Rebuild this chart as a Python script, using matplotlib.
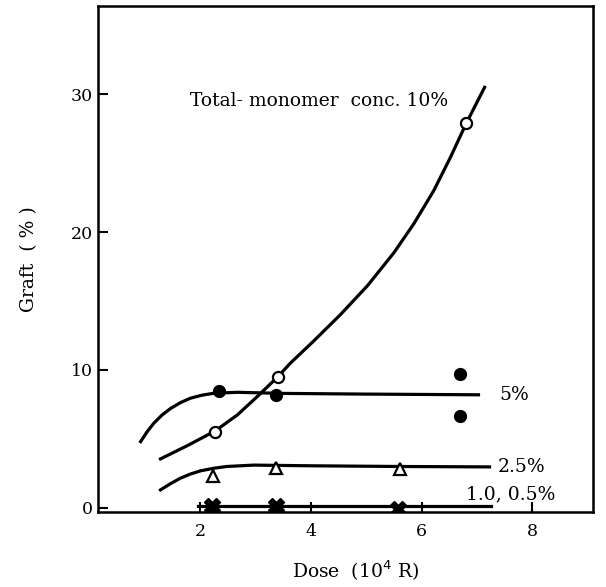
import matplotlib
matplotlib.use("Agg")
import matplotlib.pyplot as plt

# measured points (10% total monomer), open circles
dose_10 = [2.27, 3.40, 6.81]
graft_10 = [5.5, 9.5, 27.9]
# hand drawn curve through them
curve_10_x = [1.28, 1.76, 2.27, 2.67, 3.03, 3.40, 3.63, 4.05, 4.53, 5.02, 5.50, 5.86, 6.22, 6.52, 6.81, 7.14]
curve_10_y = [3.55, 4.5, 5.58, 6.74, 8.07, 9.5, 10.5, 12.1, 14.0, 16.1, 18.5, 20.6, 23.0, 25.4, 27.9, 30.5]

# 5%, filled circles
dose_5 = [2.33, 3.36, 6.69, 6.70]
graft_5 = [8.5, 8.2, 9.7, 6.65]
curve_5_x = [0.92, 1.04, 1.16, 1.31, 1.46, 1.64, 1.82, 2.03, 2.24, 2.67, 3.5, 5.0, 7.03]
curve_5_y = [4.8, 5.53, 6.14, 6.74, 7.2, 7.63, 7.95, 8.17, 8.31, 8.38, 8.3, 8.25, 8.2]

# 2.5%, open triangles
dose_25 = [2.23, 3.36, 5.61]
graft_25 = [2.3, 2.9, 2.85]
curve_25_x = [1.28, 1.46, 1.64, 1.82, 2.0, 2.24, 2.48, 2.97, 4.0, 5.6, 7.23]
curve_25_y = [1.3, 1.75, 2.15, 2.45, 2.68, 2.87, 3.0, 3.1, 3.05, 3.0, 2.97]

# 1.0 and 0.5%, crosses
dose_1 = [2.22, 3.36, 5.57]
graft_1 = [0.1, 0.1, -0.05]
curve_1_x = [1.95, 7.25]
curve_1_y = [0.1, 0.1]

labels = ["Total- monomer  conc. 10%", "5%", "2.5%", "1.0, 0.5%"]
label_x = [1.82, 7.4, 7.37, 6.81]
label_y = [29.5, 8.2, 2.97, 1.0]

xticks = [2, 4, 6, 8]
yticks = [0, 10, 20, 30]

plt.rcParams["font.family"] = ["DejaVu Serif"]

fig = plt.figure(figsize=(6.06, 5.87), dpi=100)
ax = fig.add_axes([0.1617, 0.1278, 0.8168, 0.862])

lw = 2.3
ax.plot(curve_10_x, curve_10_y, color="black", lw=lw)
ax.plot(curve_5_x, curve_5_y, color="black", lw=lw)
ax.plot(curve_25_x, curve_25_y, color="black", lw=lw)
ax.plot(curve_1_x, curve_1_y, color="black", lw=lw)

ax.plot(dose_10, graft_10, "o", ms=8, mfc="white", mec="black", mew=1.6)
ax.plot(dose_5, graft_5, "o", ms=8.5, color="black")
ax.plot(dose_25, graft_25, "^", ms=8.5, mfc="white", mec="black", mew=1.6)
ax.plot(dose_1, graft_1, "X", ms=11, color="black")

for t, x, y in zip(labels, label_x, label_y):
    ax.text(x, y, t, fontsize=13.5, va="center", ha="left")

ax.set_xlim(0.15, 9.1)
ax.set_ylim(-0.3, 36.4)
ax.set_xticks(xticks)
ax.set_yticks(yticks)
ax.tick_params(direction="in", length=7, width=1.5, labelsize=12.5)
ax.tick_params(axis="x", pad=8)
for s in ax.spines.values():
    s.set_linewidth(1.8)

ax.set_xlabel("Dose  (10$^4$ R)", fontsize=13.5, va="center")
ax.xaxis.set_label_coords(0.52, -0.117)
ax.set_ylabel("Graft  ( % )", fontsize=13.5, labelpad=24)

fig.savefig("out.png", dpi=100)
